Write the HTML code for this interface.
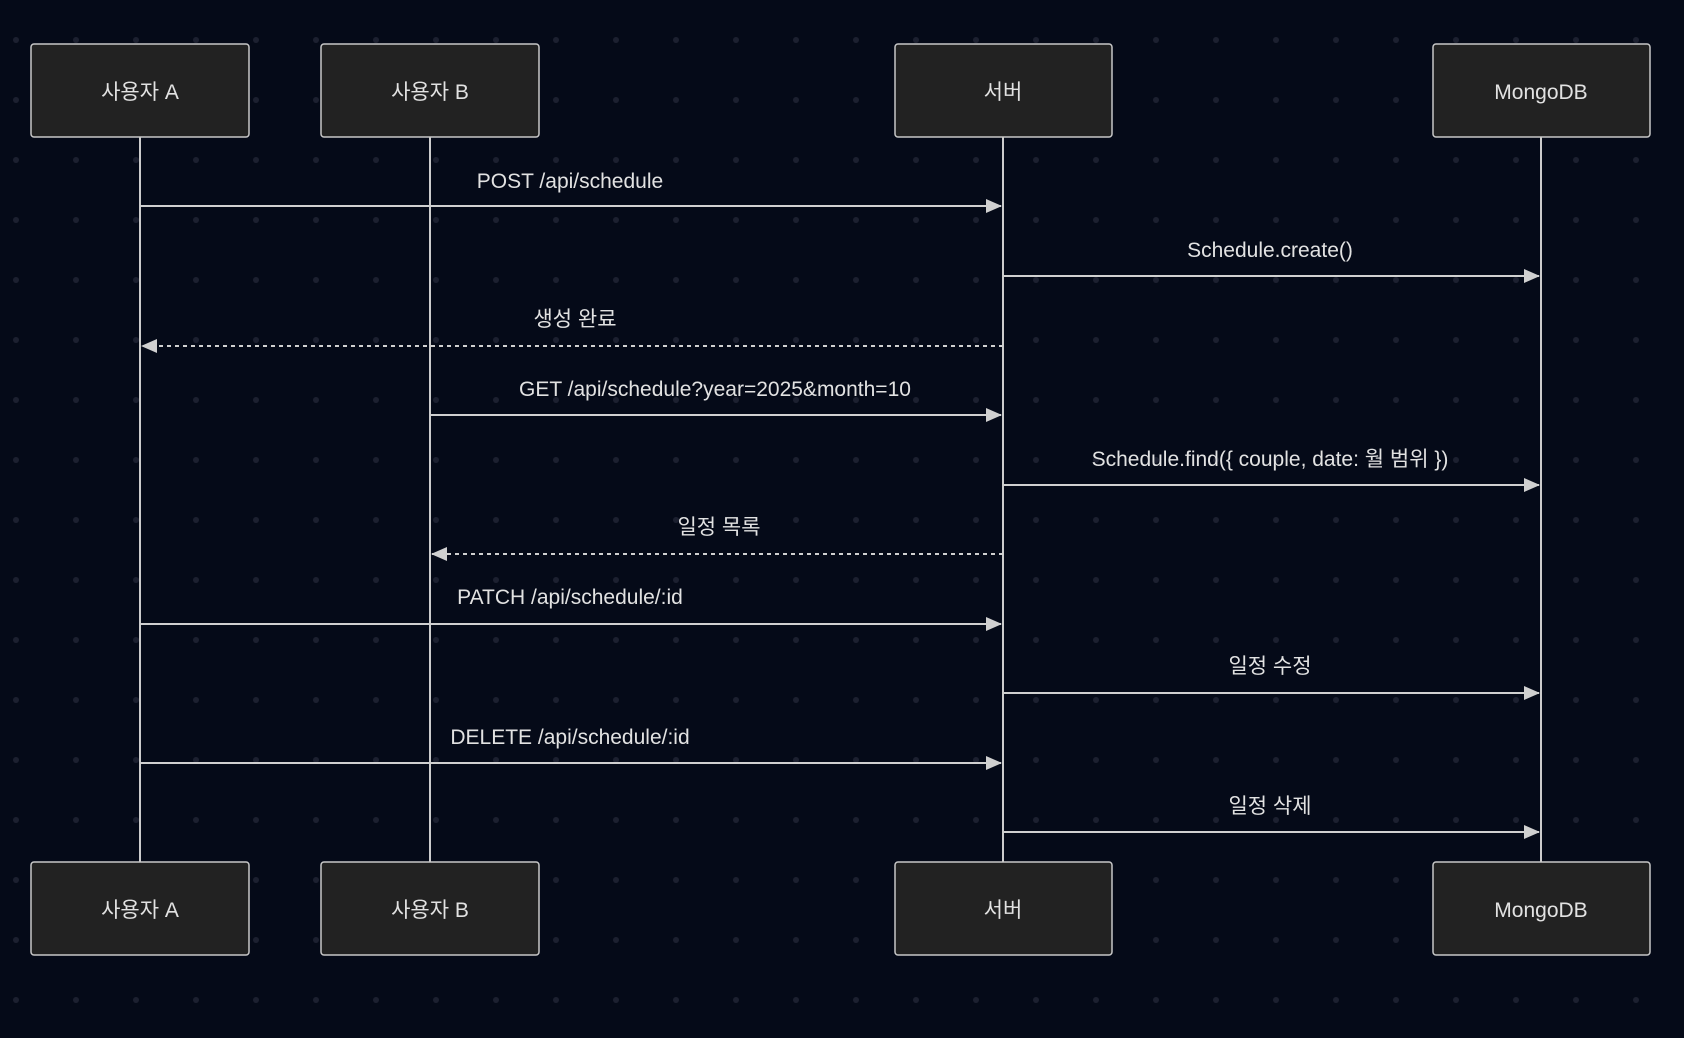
<!DOCTYPE html>
<html><head><meta charset="utf-8"><style>
html,body{margin:0;padding:0;background:#050a18;}
svg{display:block}
text{font-family:"Liberation Sans","Noto Sans CJK KR",sans-serif;fill:#e2e2e2;font-size:21px;text-anchor:middle}
</style></head><body>
<svg width="1684" height="1038" viewBox="0 0 1684 1038" xmlns="http://www.w3.org/2000/svg">
<defs>
<pattern id="dots" x="-14" y="10" width="60" height="60" patternUnits="userSpaceOnUse">
<circle cx="30" cy="30" r="3" fill="#1c2030"/>
</pattern>
<marker id="ar" markerWidth="16" markerHeight="14" refX="15" refY="7" orient="auto" markerUnits="userSpaceOnUse">
<path d="M0,0 L16,7 L0,14 z" fill="#d0d0d0"/>
</marker>
</defs>
<rect width="1684" height="1038" fill="#050a18"/>
<rect width="1684" height="1038" fill="url(#dots)"/>
<g stroke="#cccccc" stroke-width="2">
<line x1="140" y1="137" x2="140" y2="862"/>
<line x1="430" y1="137" x2="430" y2="862"/>
<line x1="1003" y1="137" x2="1003" y2="862"/>
<line x1="1541" y1="137" x2="1541" y2="862"/>
</g>
<g fill="#222222" stroke="#c8c8c8" stroke-width="1.5">
<rect x="31" y="44" width="218" height="93" rx="3"/>
<rect x="321" y="44" width="218" height="93" rx="3"/>
<rect x="895" y="44" width="217" height="93" rx="3"/>
<rect x="1433" y="44" width="217" height="93" rx="3"/>
<rect x="31" y="862" width="218" height="93" rx="3"/>
<rect x="321" y="862" width="218" height="93" rx="3"/>
<rect x="895" y="862" width="217" height="93" rx="3"/>
<rect x="1433" y="862" width="217" height="93" rx="3"/>
</g>
<g>
<text x="140" y="99">사용자 A</text>
<text x="430" y="99">사용자 B</text>
<text x="1003" y="99">서버</text>
<text x="1541" y="99">MongoDB</text>
<text x="140" y="917">사용자 A</text>
<text x="430" y="917">사용자 B</text>
<text x="1003" y="917">서버</text>
<text x="1541" y="917">MongoDB</text>
</g>
<g stroke="#d0d0d0" stroke-width="2" fill="none">
<line x1="140" y1="206" x2="1001" y2="206" marker-end="url(#ar)"/>
<line x1="1003" y1="276" x2="1539" y2="276" marker-end="url(#ar)"/>
<line x1="1003" y1="346" x2="142" y2="346" stroke-dasharray="4,4" marker-end="url(#ar)"/>
<line x1="430" y1="415" x2="1001" y2="415" marker-end="url(#ar)"/>
<line x1="1003" y1="485" x2="1539" y2="485" marker-end="url(#ar)"/>
<line x1="1003" y1="554" x2="432" y2="554" stroke-dasharray="4,4" marker-end="url(#ar)"/>
<line x1="140" y1="624" x2="1001" y2="624" marker-end="url(#ar)"/>
<line x1="1003" y1="693" x2="1539" y2="693" marker-end="url(#ar)"/>
<line x1="140" y1="763" x2="1001" y2="763" marker-end="url(#ar)"/>
<line x1="1003" y1="832" x2="1539" y2="832" marker-end="url(#ar)"/>
</g>
<g>
<text x="570" y="188">POST /api/schedule</text>
<text x="1270" y="257">Schedule.create()</text>
<text x="575" y="326">생성 완료</text>
<text x="715" y="396">GET /api/schedule?year=2025&amp;month=10</text>
<text x="1270" y="466">Schedule.find({ couple, date: 월 범위 })</text>
<text x="719" y="534">일정 목록</text>
<text x="570" y="604">PATCH /api/schedule/:id</text>
<text x="1270" y="673">일정 수정</text>
<text x="570" y="744">DELETE /api/schedule/:id</text>
<text x="1270" y="813">일정 삭제</text>
</g>
</svg>
</body></html>
